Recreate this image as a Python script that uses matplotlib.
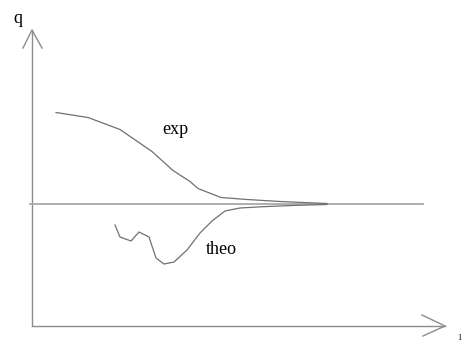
import matplotlib
matplotlib.use("Agg")
import matplotlib.pyplot as plt

# data (x in units of l, q relative to baseline)
exp_x = [0.24, 0.56, 0.88, 1.20, 1.41, 1.58, 1.66, 1.89, 2.15, 2.48, 2.95]
exp_q = [0.92, 0.87, 0.75, 0.53, 0.34, 0.23, 0.16, 0.07, 0.05, 0.03, 0.01]

theo_x = [0.83, 0.88, 0.99, 1.07, 1.17, 1.24, 1.32, 1.42, 1.55, 1.68, 1.80, 1.93, 2.08, 2.31, 2.65, 2.95]
theo_q = [-0.205, -0.325, -0.365, -0.275, -0.325, -0.535, -0.595, -0.575, -0.455, -0.285,
          -0.165, -0.065, -0.035, -0.022, -0.008, 0.0]

labels = {"exp": "exp", "theo": "theo", "y": "q", "x": "1"}

fig = plt.figure(figsize=(4.62, 3.46), dpi=100)
ax = fig.add_axes([0, 0, 1, 1])
ax.set_xlim(-0.32, 4.30)
ax.set_ylim(-1.415, 2.045)
ax.axis("off")

axcol = "#8c8c8c"
# vertical axis with arrow
ax.plot([0, 0], [-1.205, 1.745], color=axcol, lw=1.0)
ax.plot([-0.09, 0, 0.10], [1.565, 1.745, 1.565], color=axcol, lw=1.0)
# horizontal axis with arrow
ax.plot([0, 4.13], [-1.215, -1.215], color=axcol, lw=1.0)
ax.plot([3.90, 4.13, 3.91], [-1.105, -1.215, -1.315], color=axcol, lw=1.0)
# baseline
ax.plot([-0.02, 3.91], [0, 0], color="#a8a8a8", lw=1.3)

# curves
ax.plot(exp_x, exp_q, color="#707070", lw=0.9)
ax.plot(theo_x, theo_q, color="#707070", lw=0.9)

font = dict(family="Liberation Serif", color="black")
ax.text(-0.14, 1.86, labels["y"], fontsize=13, ha="center", va="center", **font)
ax.text(1.43, 0.745, labels["exp"], fontsize=13, ha="center", va="center", **font)
ax.text(1.89, -0.455, labels["theo"], fontsize=13, ha="center", va="center", **font)
ax.text(4.27, -1.33, labels["x"], fontsize=6, ha="center", va="center", **font)

fig.savefig("out.png", dpi=100)
